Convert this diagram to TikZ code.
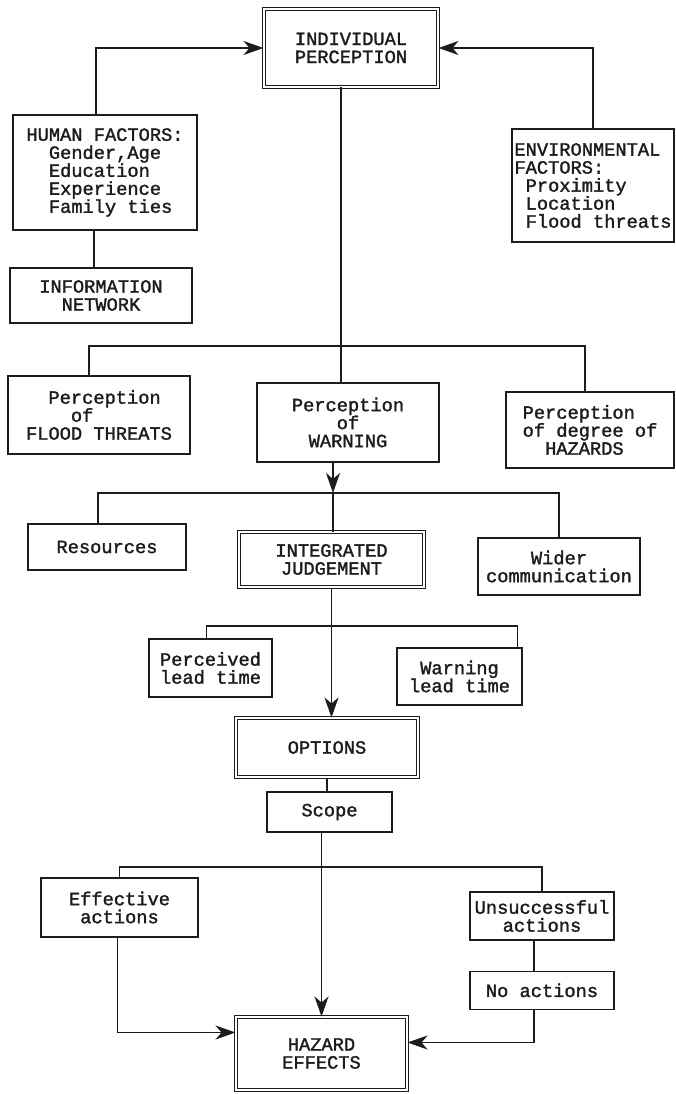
\documentclass[tikz,border=0pt]{standalone}
\usepackage{fontspec}
\setmainfont{Liberation Mono}[FakeBold=1.6]
\definecolor{inkColor}{HTML}{1C1C1C}
\usetikzlibrary{arrows.meta, positioning}
\tikzset{
    node distance = 30pt,
    boxNode/.style = {rectangle, draw=inkColor, line width=1.3pt, text=inkColor, align=center, inner sep=2pt, font=\fontsize{18.7}{18}\selectfont},
    mainNode/.style = {boxNode, double, double distance=1.6pt, line width=1pt},
    linkPath/.style = {draw=inkColor, line width=1.3pt},
    arrowPath/.style = {linkPath, -{Stealth[length=20pt, width=14pt, inset=6pt]}}
}
\begin{document}
\begin{tikzpicture}[x=1pt, y=-1pt]
            \useasboundingbox (0,0) rectangle (676,1094);
            \node(indiv)[mainNode, minimum width=174pt, minimum height=78pt] at (351,48) {INDIVIDUAL\\PERCEPTION};
            \node(hum)[boxNode, align=left, minimum width=184pt, minimum height=115pt] at (105,172.5) {HUMAN FACTORS:\\\phantom{xx}Gender,Age\\\phantom{xx}Education\\\phantom{xx}Experience\\\phantom{xx}Family ties};
            \node(env)[boxNode, align=left, minimum width=162pt, minimum height=113pt] at (593,185.5) {ENVIRONMENTAL\\FACTORS:\\\phantom{x}Proximity\\\phantom{x}Location\\\phantom{x}Flood threats};
            \node(info)[boxNode, minimum width=182pt, minimum height=55pt] at (101,295.5) {INFORMATION\\NETWORK};
            \node(flood)[boxNode, align=left, minimum width=182pt, minimum height=78pt] at (99,415) {\phantom{xx}Perception\\\phantom{xxxx}of\\FLOOD THREATS};
            \node(warn)[boxNode, minimum width=182pt, minimum height=79pt] at (348,422.5) {Perception\\of\\WARNING};
            \node(hazp)[boxNode, align=left, minimum width=168pt, minimum height=76pt] at (590,430) {Perception\\of degree of\\\phantom{xx}HAZARDS};
            \node(res)[boxNode, minimum width=158pt, minimum height=46pt] at (107,547) {Resources};
            \node(integ)[mainNode, minimum width=185pt, minimum height=55pt] at (331.5,559.5) {INTEGRATED\\JUDGEMENT};
            \node(wider)[boxNode, minimum width=162pt, minimum height=57pt] at (559,566.5) {Wider\\communication};
            \node(perc)[boxNode, minimum width=123pt, minimum height=58pt] at (210.5,668) {Perceived\\lead time};
            \node(warnlt)[boxNode, minimum width=125pt, minimum height=57pt] at (459.5,676.5) {Warning\\lead time};
            \node(options)[mainNode, minimum width=182pt, minimum height=59pt] at (327,747.5) {OPTIONS};
            \node(scope)[boxNode, minimum width=125pt, minimum height=40pt] at (329.5,812) {Scope};
            \node(eff)[boxNode, minimum width=157pt, minimum height=59pt] at (119.5,907.5) {Effective\\actions};
            \node(unsucc)[boxNode, minimum width=144pt, minimum height=48pt] at (542,916) {Unsuccessful\\actions};
            \node(noact)[boxNode, minimum width=144pt, minimum height=38pt, below=30pt of unsucc] {No actions};
            \node(hazard)[mainNode, minimum width=171pt, minimum height=73pt] at (321.5,1053.5) {HAZARD\\EFFECTS};
            \coordinate(branchA) at (341,346);
            \coordinate(branchB) at (333,493);
            \coordinate(branchC) at (331.5,626);
            \coordinate(branchD) at (321.5,867);
            \path[arrowPath] ([xshift=-9pt]hum.north) |- (indiv.west);
            \path[arrowPath] (env.north) |- (indiv.east);
            \path[linkPath] ([xshift=-11pt]hum.south) -- ([xshift=-11pt]hum.south |- info.north);
            \path[linkPath] ([xshift=-10pt]indiv.south) -- ([xshift=-10pt]indiv.south |- warn.north);
            \path[linkPath] ([xshift=-10pt]flood.north) |- (branchA) -| ([xshift=-5pt]hazp.north);
            \path[arrowPath] ([xshift=-15pt]warn.south) -- (branchB);
            \path[linkPath] (branchB) -- (branchB |- integ.north);
            \path[linkPath] ([xshift=-9pt]res.north) |- (branchB) -| (wider.north);
            \path[arrowPath] (integ.south) -- (integ.south |- options.north);
            \path[linkPath] ([xshift=-4pt]perc.north) |- (branchC) -| ([xshift=-5pt]warnlt.north east);
            \path[linkPath] (options.south) -- (options.south |- scope.north);
            \path[arrowPath] (hazard.north |- scope.south) -- (hazard.north);
            \path[linkPath] (eff.north) |- (branchD) -| (unsucc.north);
            \path[arrowPath] ([xshift=-2pt]eff.south) |- ([yshift=21pt]hazard.west);
            \path[linkPath] ([xshift=-8pt]unsucc.south) -- ([xshift=-8pt]noact.north);
            \path[arrowPath] ([xshift=-8pt]noact.south) |- ([yshift=11pt]hazard.east);
        \end{tikzpicture}
\end{document}
